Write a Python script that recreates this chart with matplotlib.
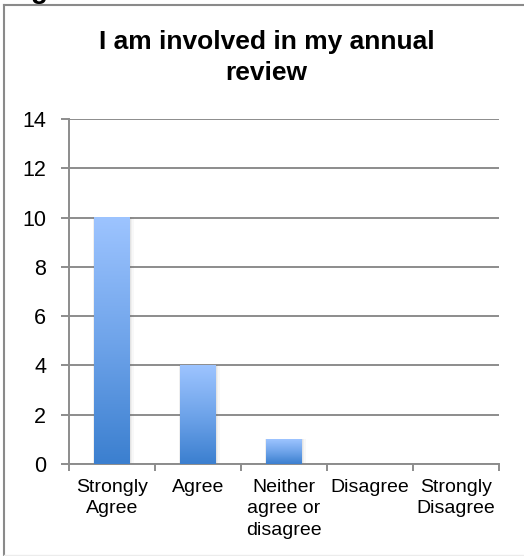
import numpy as np
import matplotlib
matplotlib.use("Agg")
import matplotlib.pyplot as plt
from matplotlib.colors import LinearSegmentedColormap
from matplotlib.patches import Rectangle
from matplotlib.lines import Line2D

# Survey responses
categories = ["Strongly\nAgree", "Agree", "Neither\nagree or\ndisagree", "Disagree", "Strongly\nDisagree"]
counts = [10, 4, 1, 0, 0]
y_ticks = [0, 2, 4, 6, 8, 10, 12, 14]
title = "I am involved in my annual\nreview"

plt.rcParams["font.family"] = ["Liberation Sans", "DejaVu Sans"]

W, H = 524, 556
fig = plt.figure(figsize=(W / 100, H / 100), dpi=100)
fig.patch.set_facecolor("white")

# plot area
ax = fig.add_axes([69 / W, 1 - 464 / H, (499 - 69) / W, (464 - 119) / H])
ax.set_facecolor("white")

x = np.arange(len(categories))
bar_w = 0.41
bars = ax.bar(x, counts, width=bar_w, color="none", edgecolor="none", zorder=3)

# vertical blue gradient inside every bar, plus a soft shadow at the sides
grad_cmap = LinearSegmentedColormap.from_list("bar", ["#3b7fcf", "#6fa4ea", "#9dc4ff"])
grad = np.linspace(0, 1, 256).reshape(-1, 1)
for rect in bars:
    h = rect.get_height()
    if h <= 0:
        continue
    x0, w = rect.get_x(), rect.get_width()
    for k, a in [(0.05, 0.04), (0.03, 0.06), (0.015, 0.08)]:
        ax.add_patch(Rectangle((x0 - k * 0.4, 0), w + k * 1.4, h + k * 0.6,
                               facecolor="#606060", alpha=a, edgecolor="none", zorder=2.5))
    ax.imshow(grad, extent=[x0, x0 + w, 0, h], origin="lower", aspect="auto",
              cmap=grad_cmap, zorder=3, interpolation="bilinear")

ax.set_xlim(-0.5, len(categories) - 0.5)
ax.set_ylim(0, 14)
ax.set_yticks(y_ticks)
ax.set_yticklabels([str(v) for v in y_ticks])
ax.yaxis.grid(True, color="#8c8c8c", linewidth=1.4, zorder=1)
ax.set_axisbelow(True)

# category labels centred, tick marks at category boundaries
ax.set_xticks(x)
ax.set_xticklabels(categories, linespacing=1.32)
ax.set_xticks(np.arange(-0.5, len(categories)), minor=True)
ax.tick_params(axis="x", which="major", length=0, pad=11, labelsize=14, colors="black")
ax.tick_params(axis="x", which="minor", length=5, width=1.4, color="#8c8c8c")
ax.tick_params(axis="y", length=6, width=1.4, color="#8c8c8c", pad=10.3, labelsize=15.5,
               labelcolor="black")

for side in ["top", "right"]:
    ax.spines[side].set_visible(False)
for side in ["left", "bottom"]:
    ax.spines[side].set_color("#8c8c8c")
    ax.spines[side].set_linewidth(1.4)

fig.text(266.5 / W, 1 - 30 / H, title, ha="center", va="top", fontsize=19,
         fontweight="bold", linespacing=1.38)

# chart frame
fig.add_artist(Line2D([4 / W, 4 / W], [0, 1 - 4.5 / H], transform=fig.transFigure,
                      color="#8a8a8a", linewidth=1.5))
fig.add_artist(Line2D([4 / W, 1], [1 - 4.5 / H, 1 - 4.5 / H], transform=fig.transFigure,
                      color="#8a8a8a", linewidth=1.5))
fig.add_artist(Line2D([4 / W, 1], [1 / H, 1 / H], transform=fig.transFigure,
                      color="#ececec", linewidth=1.0))

# tail of the heading above the frame
fig.text(31 / W, 1 + 2 / H, "g", ha="left", va="baseline", fontsize=20, fontweight="bold")

fig.savefig("out.png", dpi=100, facecolor="white")
